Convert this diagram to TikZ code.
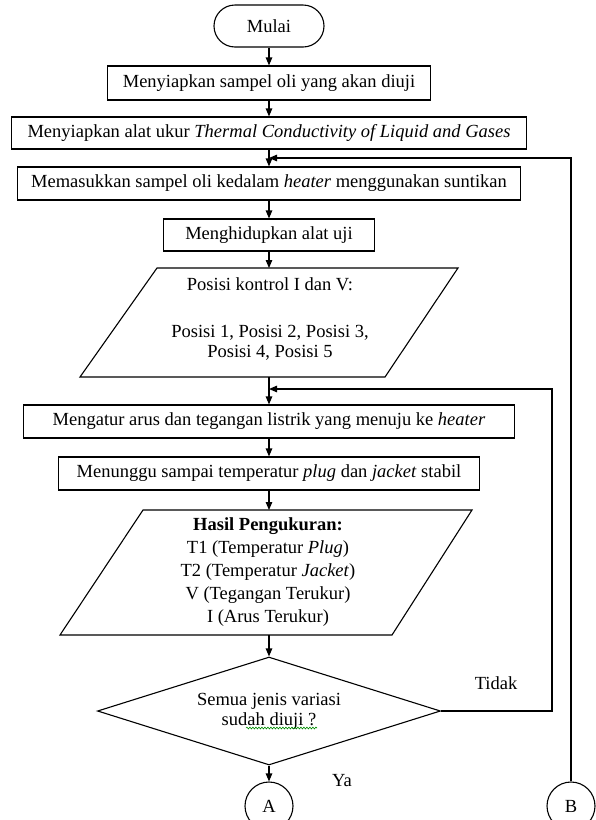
\documentclass[tikz,border=0pt]{standalone}
\usepackage{fontspec}
\setmainfont{Liberation Serif}
\usetikzlibrary{shapes.geometric,arrows.meta,decorations.pathmorphing}
\begin{document}
\begin{tikzpicture}[x=1pt,y=-1pt,
  every node/.style={font=\fontsize{18.5}{20}\selectfont, inner sep=0pt},
  box/.style={draw, line width=1.1pt, rectangle, inner sep=0pt, minimum height=#1},
  box/.default=33pt,
  line/.style={line width=1.1pt},
  flow/.style={line width=1.1pt, -{Triangle[length=8pt,width=6.5pt]}},
  spell/.style={green!55!black, line width=0.6pt, decorate,
    decoration={snake, amplitude=0.9pt, segment length=3pt}}
]
\useasboundingbox (0,0) rectangle (596,820);

% process steps
\node[box=42pt, rounded corners=21pt, minimum width=110pt] (mulai) at (269,26) {Mulai};
\node[box=34pt, minimum width=323pt] (b1) at (269,83) {Menyiapkan sampel oli yang akan diuji};
\node[box=32pt, minimum width=515pt] (b2) at (269,133) {Menyiapkan alat ukur \textit{Thermal Conductivity of Liquid and Gases}};
\node[box, minimum width=503pt] (b3) at (269,183.5) {Memasukkan sampel oli kedalam \textit{heater} menggunakan suntikan};
\node[box=32pt, minimum width=211pt] (b4) at (269,235) {Menghidupkan alat uji};

% input: control positions
\draw[line] (157,268) -- (458,268) -- (385,377) -- (80,377) -- cycle;
\coordinate (p1n) at (269,268);
\coordinate (p1s) at (269,377);
\node[align=center] (p1) at (270,319) {Posisi kontrol I dan V:\\[27pt] Posisi 1, Posisi 2, Posisi 3,\\ Posisi 4, Posisi 5};

\node[box, minimum width=491pt] (b5) at (269,421.5) {Mengatur arus dan tegangan listrik yang menuju ke \textit{heater}};
\node[box, minimum width=421pt] (b6) at (269,473.5) {Menunggu sampai temperatur \textit{plug} dan \textit{jacket} stabil};

% output: measurement results
\draw[line] (143,510) -- (472,510) -- (392,635) -- (60,635) -- cycle;
\coordinate (p2n) at (269,510);
\coordinate (p2s) at (269,635);
\node[align=center, font=\fontsize{18.5}{23}\selectfont] (p2) at (268,572)
  {\textbf{Hasil Pengukuran:}\\ T1 (Temperatur \textit{Plug})\\ T2 (Temperatur \textit{Jacket})\\ V (Tegangan Terukur)\\ I (Arus Terukur)};

% decision
\node[diamond, aspect=3.18, draw, line width=1.1pt, minimum width=343pt, minimum height=108pt, align=center] (dec) at (269,711) {Semua jenis variasi\\ sudah diuji ?};
\draw[spell] (246,728) -- (317,728);

% connectors
\node[circle, draw, line width=1.1pt, minimum size=48pt] (A) at (269,806) {A};
\node[circle, draw, line width=1.1pt, minimum size=48pt] (B) at (571,806) {B};
\node (tidak) at (496,683) {Tidak};
\node (ya) at (342,781) {Ya};

% loop-back points
\coordinate (j1) at (269,158);
\coordinate (r1) at (571,158);
\coordinate (j2) at (269,389);
\coordinate (c1) at (552,711);
\coordinate (c2) at (552,389);

% flow lines
\draw[flow] (mulai) -- (b1);
\draw[flow] (b1) -- (b2);
\draw[flow] (b2) -- (b3);
\draw[flow] (b3) -- (b4);
\draw[flow] (b4) -- (p1n);
\draw[flow] (p1s) -- (b5);
\draw[flow] (b5) -- (b6);
\draw[flow] (b6) -- (p2n);
\draw[flow] (p2s) -- (dec);
\draw[flow] (dec) -- (A);
\draw[flow] (B) -- (r1) -- (j1);
\draw[flow] (dec.east) -- (c1) -- (c2) -- (j2);
\end{tikzpicture}
\end{document}
